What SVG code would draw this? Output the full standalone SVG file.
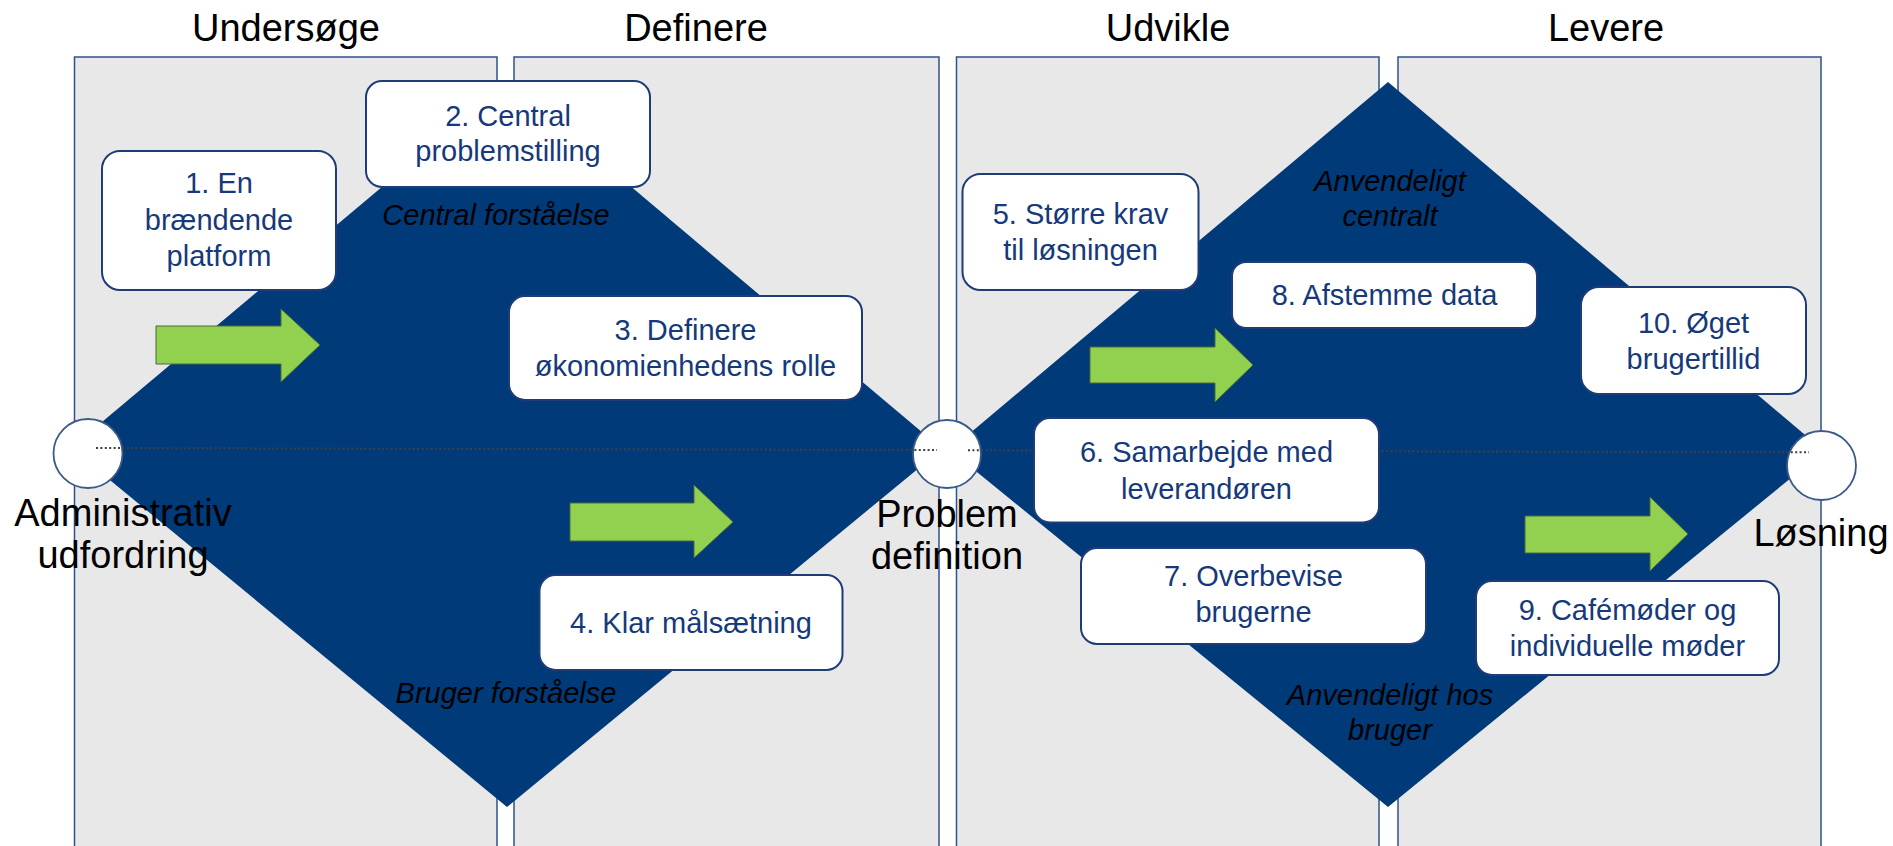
<svg xmlns="http://www.w3.org/2000/svg" width="1893" height="846" viewBox="0 0 1893 846">
<style>
.panel{fill:#E8E8E8;stroke:#2E528F;stroke-width:1.5}
.dia{fill:#003A79}
.circ{fill:#FFFFFF;stroke:#3A5A8A;stroke-width:1.8}
.box{fill:#FFFFFF;stroke:#1F3C78;stroke-width:2}
.bt{font-family:"Liberation Sans",Arial,sans-serif;font-size:29px;fill:#15397A;text-anchor:middle}
.it{font-family:"Liberation Sans",Arial,sans-serif;font-size:29px;font-style:italic;fill:#000000;text-anchor:middle}
.title{font-family:"Liberation Sans",Arial,sans-serif;font-size:38px;fill:#000000;text-anchor:middle}
.lbl{font-family:"Liberation Sans",Arial,sans-serif;font-size:38px;fill:#000000;text-anchor:middle}
.dot{stroke:#404040;stroke-width:2;stroke-dasharray:2 2.4;fill:none}
.arr{fill:#92D050;stroke:#4A6B3A;stroke-width:1}
</style>
<rect width="1893" height="846" fill="#FFFFFF"/>
<g id="panels">
<rect class="panel" x="74.5" y="57" width="422.5" height="800"/>
<rect class="panel" x="514" y="57" width="425" height="800"/>
<rect class="panel" x="956.5" y="57" width="422.5" height="800"/>
<rect class="panel" x="1398" y="57" width="423" height="800"/>
</g>
<g id="titles">
<text class="title" x="286" y="41">Undersøge</text>
<text class="title" x="696" y="41">Definere</text>
<text class="title" x="1168" y="41">Udvikle</text>
<text class="title" x="1606" y="41">Levere</text>
</g>
<g id="diamonds">
<polygon class="dia" points="71,448 507,82 942,449 507,807"/>
<polygon class="dia" points="950,450 1388,82 1824,451 1388,807"/>
</g>
<g id="phase-labels">
<text class="it" x="496" y="225">Central forståelse</text>
<text class="it" x="506" y="703">Bruger forståelse</text>
<text class="it" x="1390" y="191">Anvendeligt</text>
<text class="it" x="1390" y="226">centralt</text>
<text class="it" x="1390" y="705">Anvendeligt hos</text>
<text class="it" x="1390" y="740">bruger</text>
</g>
<g id="node-start">
<circle class="circ" cx="88" cy="453.5" r="34.5"/>
<text class="lbl" x="123" y="526">Administrativ</text>
<text class="lbl" x="123" y="568">udfordring</text>
</g>
<g id="node-problem">
<circle class="circ" cx="947" cy="454" r="34"/>
<text class="lbl" x="947" y="527">Problem</text>
<text class="lbl" x="947" y="569">definition</text>
</g>
<g id="node-solution">
<circle class="circ" cx="1821.5" cy="465.5" r="34.5"/>
<text class="lbl" x="1821" y="546">Løsning</text>
</g>
<g id="connectors">
<line class="dot" x1="96" y1="448" x2="937" y2="450"/>
<line class="dot" x1="968" y1="450.3" x2="1809" y2="452.3"/>
<polygon class="arr" points="156,326 281,326 281,309 320,345 281,382 281,364 156,364"/>
<polygon class="arr" points="570,503 694,503 694,485 733,522 694,558 694,541 570,541"/>
<polygon class="arr" points="1090,347 1215,347 1215,328 1253,365 1215,402 1215,383 1090,383"/>
<polygon class="arr" points="1525,516 1650,516 1650,497 1688,534 1650,571 1650,553 1525,553"/>
</g>
<g id="box1">
<rect class="box" x="102" y="151" width="234" height="139" rx="18"/>
<text class="bt" x="219" y="193">1. En</text>
<text class="bt" x="219" y="230">brændende</text>
<text class="bt" x="219" y="266">platform</text>
</g>
<g id="box2">
<rect class="box" x="366" y="81" width="284" height="106" rx="16"/>
<text class="bt" x="508" y="126">2. Central</text>
<text class="bt" x="508" y="161">problemstilling</text>
</g>
<g id="box3">
<rect class="box" x="509" y="296" width="353" height="104" rx="16"/>
<text class="bt" x="685.5" y="340">3. Definere</text>
<text class="bt" x="685.5" y="376">økonomienhedens rolle</text>
</g>
<g id="box4">
<rect class="box" x="539.5" y="575" width="303" height="95" rx="16"/>
<text class="bt" x="691" y="633">4. Klar målsætning</text>
</g>
<g id="box5">
<rect class="box" x="962.5" y="174" width="236" height="116" rx="18"/>
<text class="bt" x="1080.5" y="224">5. Større krav</text>
<text class="bt" x="1080.5" y="260">til løsningen</text>
</g>
<g id="box6">
<rect class="box" x="1034" y="418" width="345" height="104.5" rx="16"/>
<text class="bt" x="1206.5" y="462">6. Samarbejde med</text>
<text class="bt" x="1206.5" y="499">leverandøren</text>
</g>
<g id="box7">
<rect class="box" x="1081" y="548" width="345" height="96" rx="16"/>
<text class="bt" x="1253.5" y="586">7. Overbevise</text>
<text class="bt" x="1253.5" y="622">brugerne</text>
</g>
<g id="box8">
<rect class="box" x="1232" y="262" width="305" height="66" rx="14"/>
<text class="bt" x="1384.5" y="305">8. Afstemme data</text>
</g>
<g id="box9">
<rect class="box" x="1476" y="581" width="303" height="94" rx="16"/>
<text class="bt" x="1627.5" y="620">9. Cafémøder og</text>
<text class="bt" x="1627.5" y="656">individuelle møder</text>
</g>
<g id="box10">
<rect class="box" x="1581" y="287" width="225" height="107" rx="18"/>
<text class="bt" x="1693.5" y="333">10. Øget</text>
<text class="bt" x="1693.5" y="369">brugertillid</text>
</g>
</svg>
